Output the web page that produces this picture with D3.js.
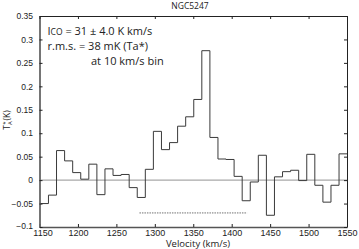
<!DOCTYPE html>
<html>
<head>
<meta charset="utf-8">
<script src="https://cdn.jsdelivr.net/npm/d3@7"></script>
<style>
  body { margin: 0; background: #fff; }
  svg { display: block; font-family: "Open Sans", sans-serif; }
  .tick text { fill: #222; }
</style>
</head>
<body>
<div id="chart"></div>
<script>
// channel centres (km/s) and antenna temperature (K)
const velocity = [1156.4, 1166.9, 1177.4, 1187.9, 1198.4, 1208.9, 1219.4, 1229.9, 1240.4, 1250.9,
  1261.4, 1271.9, 1282.4, 1292.9, 1303.4, 1313.9, 1324.4, 1334.9, 1345.4, 1355.9,
  1366.4, 1376.9, 1387.4, 1397.9, 1408.4, 1418.9, 1429.4, 1439.9, 1450.4, 1460.9,
  1471.4, 1481.9, 1492.4, 1502.9, 1513.4, 1523.9, 1534.4, 1544.9];
const ta = [-0.050, -0.032, 0.063, 0.041, 0.016, 0.002, 0.034, -0.031, 0.024, 0.010,
  0.012, -0.016, -0.037, 0.023, 0.104, 0.065, 0.080, 0.115, 0.135, 0.172,
  0.276, 0.091, 0.045, 0.044, 0.008, -0.044, -0.004, 0.053, -0.075, 0.007,
  0.018, 0.021, -0.001, 0.055, -0.011, -0.047, -0.011, 0.056];
const lineRange = [1280, 1420];   // integration range (dotted bar)
const lineRangeY = -0.07;
const xTicks = [1150, 1200, 1250, 1300, 1350, 1400, 1450, 1500, 1550];
const yTicks = [-0.1, -0.05, 0, 0.05, 0.1, 0.15, 0.2, 0.25, 0.3, 0.35];
const title = 'NGC5247';
const notes = ['r.m.s. = 38 mK (Ta*)', 'at 10 km/s bin'];

const W = 359, H = 249;
const margin = { top: 16, right: 12, bottom: 22, left: 39.5 };
const w = W - margin.left - margin.right;
const h = H - margin.top - margin.bottom;

const svg = d3.select('#chart').append('svg').attr('width', W).attr('height', H);
const g = svg.append('g').attr('transform', `translate(${margin.left},${margin.top})`);

const x = d3.scaleLinear().domain([1150, 1550]).range([0, w]);
const y = d3.scaleLinear().domain([-0.1, 0.35]).range([h, 0]);

// step outline: left edges + final right edge
const half = (velocity[1] - velocity[0]) / 2;
const pts = velocity.map((v, i) => [Math.max(1150, v - half), ta[i]]);
pts.push([Math.min(1550, velocity[velocity.length - 1] + half), ta[ta.length - 1]]);

g.append('clipPath').attr('id', 'clip').append('rect').attr('width', w).attr('height', h);

// zero line
g.append('line')
  .attr('x1', 0).attr('x2', w).attr('y1', y(0)).attr('y2', y(0))
  .attr('stroke', '#a8a8a8').attr('stroke-width', 1.4);

g.append('path')
  .datum(pts)
  .attr('clip-path', 'url(#clip)')
  .attr('fill', 'none')
  .attr('stroke', '#3a3a3a')
  .attr('stroke-width', 1)
  .attr('d', d3.line().x(d => x(d[0])).y(d => y(d[1])).curve(d3.curveStepAfter));

// integration range
g.append('line')
  .attr('x1', x(lineRange[0])).attr('x2', x(lineRange[1]))
  .attr('y1', y(lineRangeY)).attr('y2', y(lineRangeY))
  .attr('stroke', '#333').attr('stroke-width', 0.7).attr('stroke-dasharray', '1.5,1');

// axes
const ax = g.append('g').attr('transform', `translate(0,${h})`)
  .call(d3.axisBottom(x).tickValues(xTicks).tickFormat(d3.format('d'))
    .tickSizeInner(-3).tickSizeOuter(0).tickPadding(2.5));
ax.selectAll('text').style('font-size', '9px');
ax.selectAll('.tick').filter(d => d === 1150).select('text').attr('dx', 3);
const ay = g.append('g')
  .call(d3.axisLeft(y).tickValues(yTicks).tickFormat(d3.format('')).tickSizeInner(3).tickSizeOuter(0).tickPadding(3));
ay.selectAll('.tick line').attr('x2', 3).attr('x1', 0);
ay.selectAll('text').attr('x', -6.5).style('font-size', '8.5px');
ay.selectAll('.tick').filter(d => d === -0.1).select('text').attr('dy', '0.2em');
g.append('g').call(d3.axisTop(x).tickValues(xTicks).tickFormat('').tickSizeInner(-3).tickSizeOuter(0));
g.append('g').attr('transform', `translate(${w},0)`)
  .call(d3.axisRight(y).tickValues(yTicks).tickFormat('').tickSizeInner(-3).tickSizeOuter(0));

g.selectAll('.domain').attr('stroke', '#222').attr('stroke-width', 1);
ax.select('.domain').attr('stroke', '#555').attr('stroke-width', 1.6);
ay.select('.domain').attr('stroke', '#666').attr('stroke-width', 1.8);
g.selectAll('.tick line').attr('stroke', '#222');

// labels
svg.append('text').attr('x', 190).attr('y', 9).attr('text-anchor', 'middle')
  .attr('font-size', 8.5).attr('fill', '#222').text(title);
svg.append('text').attr('x', 198).attr('y', 247).attr('text-anchor', 'middle')
  .attr('font-size', 9.5).attr('fill', '#222').text('Velocity (km/s)');
const yl = svg.append('text').attr('transform', 'translate(10,120) rotate(-90)')
  .attr('text-anchor', 'middle').attr('font-size', 8.5).attr('fill', '#222');
yl.append('tspan').text('T');
yl.append('tspan').attr('font-size', 6).attr('dy', 1.5).text('A');
yl.append('tspan').attr('font-size', 6).attr('dy', -4.5).attr('dx', -3.5).text('*');
yl.append('tspan').attr('dy', 3).attr('dx', 1).text('(K)');

const t1 = svg.append('text').attr('x', 47.5).attr('y', 34.5).attr('font-size', 11).attr('fill', '#222');
t1.append('tspan').text('I');
t1.append('tspan').attr('font-size', 8.5).text('CO');
t1.append('tspan').text(' = 31 \u00b1 4.0 K km/s');
svg.append('text').attr('x', 47.5).attr('y', 50).attr('font-size', 11).attr('fill', '#222').text(notes[0]);
svg.append('text').attr('x', 91).attr('y', 64.5).attr('font-size', 11).attr('fill', '#222').text(notes[1]);
</script>
</body>
</html>
